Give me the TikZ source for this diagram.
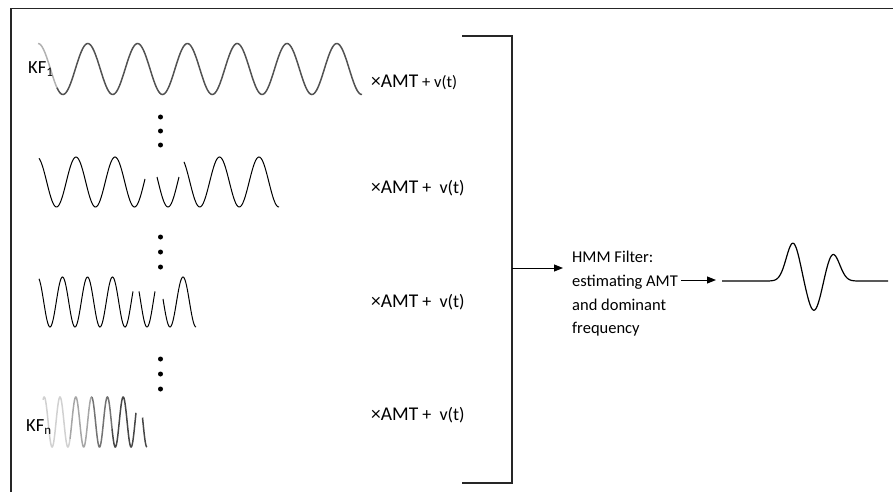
\documentclass[tikz,border=0pt]{standalone}
\usepackage{fontspec}
\setmainfont{Carlito}
\usetikzlibrary{arrows.meta}
\begin{document}
\begin{tikzpicture}[x=1pt,y=-1pt,
  frame/.style={line width=1.5pt, draw=black!85},
  thinwave/.style={line width=1pt, draw=black},
  graywave/.style={line width=1.5pt, draw=black!68},
  dotnode/.style={circle, fill=black, inner sep=0pt, minimum size=5pt},
  kflbl/.style={anchor=west, inner sep=0pt, font=\fontsize{18.5}{20}\selectfont},
  amt/.style={anchor=west, inner sep=0pt},
  hmm/.style={anchor=base west, inner sep=0pt, font=\fontsize{16.5}{20}\selectfont},
  arr/.style={line width=1pt, -{Triangle[length=9pt,width=7pt]}},
  bracketline/.style={line width=1.2pt, draw=black!85},
]
\useasboundingbox (0,0) rectangle (893,492);
% frame
\draw[frame] (11,492) -- (11,8.5) -- (893,8.5);

% row 1 wave
\draw[graywave, draw=black!30] plot[domain=38:58, samples=30] (\x,{69-25.5*cos((\x-38)/49.8*360)});
\draw[graywave] plot[domain=57:362, samples=250] (\x,{69-25.5*cos((\x-38)/49.8*360)});
\node[kflbl] (kf1) at (28,69) {KF\textsubscript{1}};

% row 2 waves
\draw[thinwave] plot[domain=39:145, samples=100] (\x,{182-25*cos((\x-76)/39*360)});
\draw[thinwave] plot[domain=157:179, samples=30] (\x,{182+25*cos((\x-168)/39*360)});
\draw[thinwave] plot[domain=184:279, samples=100] (\x,{182-25*cos((\x-180)/39.5*360)});

% row 3 waves
\draw[thinwave] plot[domain=39:133, samples=120] (\x,{302-25*cos((\x-37.5)/25*360)});
\draw[thinwave] plot[domain=139:155, samples=30] (\x,{302+25*cos((\x-147)/25*360)});
\draw[thinwave] plot[domain=163:196, samples=50] (\x,{302-25*cos((\x-183)/26*360)});

% row 4 wave (fading from light on the left)
\draw[graywave, draw=black!18] plot[domain=43:70, samples=60] (\x,{422-25*cos((\x-60)/15.8*360)});
\draw[graywave, draw=black!35] plot[domain=70:92, samples=50] (\x,{422-25*cos((\x-60)/15.8*360)});
\draw[graywave, draw=black!55] plot[domain=92:112, samples=50] (\x,{422-25*cos((\x-60)/15.8*360)});
\draw[graywave, draw=black!72] plot[domain=112:136, samples=60] (\x,{422-25*cos((\x-60)/15.8*360)});
\draw[graywave, draw=black!72] plot[domain=142.5:146.9, samples=12] (\x,{422-25*cos((\x-139)/15.8*360)});
\node[kflbl] (kfn) at (26,427) {KF\textsubscript{n}};

% dots
\node[dotnode] (d1a) at (160.5,117) {};
\node[dotnode] (d1b) at (160.5,131) {};
\node[dotnode] (d1c) at (160.5,145) {};
\node[dotnode] (d2a) at (160.5,237) {};
\node[dotnode] (d2b) at (160.5,252) {};
\node[dotnode] (d2c) at (160.5,267) {};
\node[dotnode] (d3a) at (160.5,359) {};
\node[dotnode] (d3b) at (160.5,374) {};
\node[dotnode] (d3c) at (160.5,389) {};

% multiplier texts
\node[amt] (m1) at (371,82) {\fontsize{19.5}{22}\selectfont ×AMT\fontsize{16.5}{16}\selectfont{} + v(t)};
\node[amt] (m2) at (371,188) {\fontsize{19.5}{22}\selectfont ×AMT\fontsize{18}{16}\selectfont{} +\ \ v(t)};
\node[amt] (m3) at (371,302) {\fontsize{19.5}{22}\selectfont ×AMT\fontsize{18}{16}\selectfont{} +\ \ v(t)};
\node[amt] (m4) at (371,415) {\fontsize{19.5}{22}\selectfont ×AMT\fontsize{18}{16}\selectfont{} +\ \ v(t)};

% bracket
\coordinate (btop) at (512,36);
\coordinate (bbot) at (512,483);
\coordinate (bmid) at (512,268);
\draw[bracketline] (462,36) -- (btop) -- (bbot) -- (462,483);

% HMM text
\node[hmm] (h1) at (572,262) {HMM Filter:};
\node[hmm] (h2) at (572,286) {estimating AMT};
\node[hmm] (h3) at (572,310) {and dominant};
\node[hmm] (h4) at (572,333) {frequency};

\coordinate (a1end) at (563,268);
\draw[arr] (bmid) -- (a1end);

\coordinate (a2end) at (716,280);
\draw[arr] ([xshift=3pt]h2.east |- a2end) -- (a2end);

% output wavelet
\draw[line width=1.2pt] plot[domain=722:888, samples=240]
  (\x,{281-(38*exp(max(-15,-((\x-793)/9.5)*((\x-793)/9.5)))-30*exp(max(-15,-((\x-814)/9.5)*((\x-814)/9.5)))+27*exp(max(-15,-((\x-833)/9.5)*((\x-833)/9.5))))});
\end{tikzpicture}
\end{document}
